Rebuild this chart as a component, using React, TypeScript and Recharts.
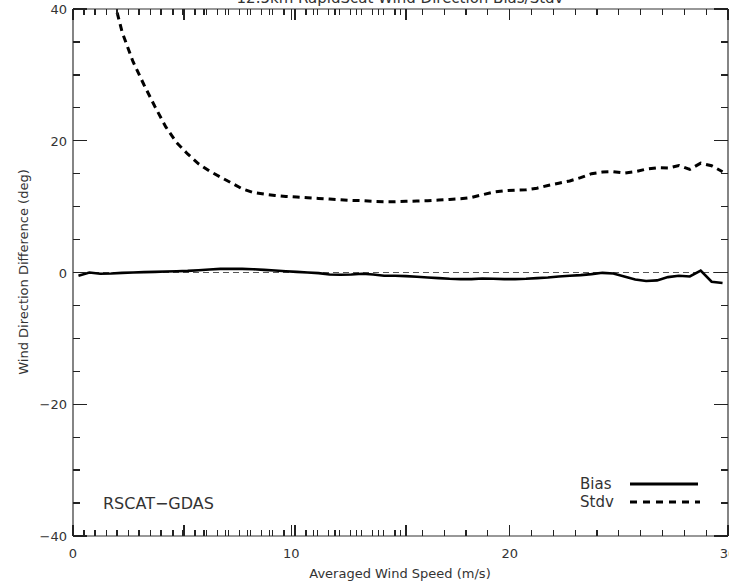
import { LineChart, Line, XAxis, YAxis, ReferenceLine } from 'recharts'

// averaged wind speed bins (m/s)
const speeds = [
  0.25, 0.75, 1.25, 1.75, 2.25, 2.75, 3.25, 3.75, 4.25, 4.75,
  5.25, 5.75, 6.25, 6.75, 7.25, 7.75, 8.25, 8.75, 9.25, 9.75,
  10.25, 10.75, 11.25, 11.75, 12.25, 12.75, 13.25, 13.75, 14.25, 14.75,
  15.25, 15.75, 16.25, 16.75, 17.25, 17.75, 18.25, 18.75, 19.25, 19.75,
  20.25, 20.75, 21.25, 21.75, 22.25, 22.75, 23.25, 23.75, 24.25, 24.75,
  25.25, 25.75, 26.25, 26.75, 27.25, 27.75, 28.25, 28.75, 29.25, 29.75,
]

const bias = [
  -0.5, 0.0, -0.2, -0.15, -0.05, 0.0, 0.05, 0.1, 0.15, 0.2,
  0.25, 0.35, 0.45, 0.55, 0.55, 0.55, 0.5, 0.4, 0.3, 0.2,
  0.1, 0.0, -0.1, -0.3, -0.35, -0.3, -0.2, -0.3, -0.5, -0.5,
  -0.55, -0.65, -0.75, -0.85, -0.95, -1.0, -1.0, -0.9, -0.95, -1.0,
  -1.0, -0.95, -0.85, -0.75, -0.6, -0.5, -0.4, -0.25, -0.05, -0.15,
  -0.6, -1.05, -1.3, -1.2, -0.7, -0.5, -0.6, 0.3, -1.4, -1.6,
]

const stdv = [
  68, 58, 50, 43, 36.5, 32, 28.5, 25.2, 22.1, 19.7,
  18.0, 16.5, 15.4, 14.5, 13.6, 12.7, 12.15, 11.9, 11.7, 11.55,
  11.45, 11.35, 11.25, 11.15, 11.05, 10.95, 10.9, 10.8, 10.75, 10.75,
  10.8, 10.85, 10.9, 11.0, 11.1, 11.2, 11.4, 11.8, 12.2, 12.4,
  12.5, 12.55, 12.8, 13.2, 13.55, 13.9, 14.4, 15.0, 15.25, 15.3,
  15.1, 15.3, 15.7, 15.9, 15.85, 16.25, 15.65, 16.6, 16.2, 15.3,
]

const xTicks = Array.from({ length: 31 }, (_, i) => i)
const yTicks = Array.from({ length: 17 }, (_, i) => -40 + i * 5)

const data = speeds.map((s, i) => ({ speed: s, bias: bias[i], stdv: stdv[i] }))

const FONT = '"DejaVu Sans", sans-serif'
const INK = '#333'
const TICK = '#222'
// plot box size (729 - 73 - 1, 583 - 9 - 47), used to mirror the inward ticks
const PLOT_W = 655
const PLOT_H = 527

const fmt = (v: number) => (v < 0 ? `\u2212${-v}` : `${v}`)

// x ticks: drawn on both bottom and top edges
function xTickMarks(x: number, yBottom: number, major: boolean) {
  const yTop = yBottom - PLOT_H
  const len = major ? 11 : 6
  return (
    <g shapeRendering="crispEdges">
      <line x1={x} x2={x} y1={yBottom} y2={yBottom - len} stroke={TICK} strokeWidth={1.3} />
      <line x1={x} x2={x} y1={yTop} y2={yTop + len} stroke={TICK} strokeWidth={1.3} />
    </g>
  )
}

// y ticks: drawn on both left and right edges
function yTickMarks(xLeft: number, y: number, major: boolean) {
  const xRight = xLeft + PLOT_W
  const len = major ? 14 : 7
  return (
    <g shapeRendering="crispEdges">
      <line x1={xLeft} x2={xLeft + len} y1={y} y2={y} stroke={TICK} strokeWidth={1.3} />
      <line x1={xRight} x2={xRight - len} y1={y} y2={y} stroke={TICK} strokeWidth={1.3} />
    </g>
  )
}

function BottomTick({ x, y, payload }: any) {
  const major = payload.value % 10 === 0
  return (
    <g>
      {xTickMarks(x, y, major)}
      {major && (
        <text x={x} y={y + 22} textAnchor="middle" fontSize={13} fontFamily={FONT} fill={INK}>
          {payload.value}
        </text>
      )}
    </g>
  )
}

function TopTick({ x, y, payload }: any) {
  return xTickMarks(x, y + PLOT_H, payload.value % 10 === 0)
}

function LeftTick({ x, y, payload }: any) {
  const major = payload.value % 20 === 0
  return (
    <g>
      {yTickMarks(x, y, major)}
      {major && (
        <text x={x - 6} y={y + 5} textAnchor="end" fontSize={13} fontFamily={FONT} fill={INK}>
          {fmt(payload.value)}
        </text>
      )}
    </g>
  )
}

function RightTick({ x, y, payload }: any) {
  return yTickMarks(x - PLOT_W, y, payload.value % 20 === 0)
}

const axisLine = { stroke: INK, strokeWidth: 1.2 }

export default function App() {
  return (
    <div style={{ position: 'relative', width: 729, height: 583, background: '#fff' }}>
      <style>{`body{margin:0}`}</style>
      <LineChart width={729} height={583} data={data} margin={{ top: 8, right: 0, left: 0, bottom: 0 }}>
        <XAxis
          dataKey="speed" type="number" domain={[0, 30]} ticks={xTicks} tickCount={31} interval={0}
          height={47} tickSize={0} tickMargin={0} tick={BottomTick} axisLine={axisLine} allowDataOverflow
        />
        <XAxis
          xAxisId="top" orientation="top" type="number" domain={[0, 30]} ticks={xTicks} tickCount={31}
          interval={0} height={1} tickSize={0} tickMargin={0} tick={TopTick} axisLine={axisLine}
        />
        <YAxis
          type="number" domain={[-40, 40]} ticks={yTicks} tickCount={17} interval={0} width={73}
          tickSize={0} tickMargin={0} tick={LeftTick} axisLine={axisLine} allowDataOverflow
        />
        <YAxis
          yAxisId="right" orientation="right" type="number" domain={[-40, 40]} ticks={yTicks}
          tickCount={17} interval={0} width={1} tickSize={0} tickMargin={0} tick={RightTick}
          axisLine={axisLine}
        />
        <ReferenceLine y={0} stroke="#555" strokeDasharray="6 4" />
        <Line
          dataKey="bias" type="linear" stroke="#000" strokeWidth={2.6} dot={false}
          isAnimationActive={false}
        />
        <Line
          dataKey="stdv" type="linear" stroke="#000" strokeWidth={3} strokeDasharray="7 5" dot={false}
          isAnimationActive={false}
        />
      </LineChart>
      <svg
        width={729} height={583}
        style={{ position: 'absolute', left: 0, top: 0, pointerEvents: 'none' }}
      >
        <text x={400} y={3} textAnchor="middle" fontSize={15} fontFamily={FONT} fill={INK}>
          12.5km RapidScat Wind Direction Bias/Stdv
        </text>
        <text x={400} y={578} textAnchor="middle" fontSize={13} fontFamily={FONT} fill={INK}>
          Averaged Wind Speed (m/s)
        </text>
        <text
          x={0} y={0} transform="translate(28,272) rotate(-90)" textAnchor="middle"
          fontSize={13} fontFamily={FONT} fill={INK}
        >
          Wind Direction Difference (deg)
        </text>
        <text x={103} y={509} fontSize={16} fontFamily={FONT} fill={INK}>RSCAT−GDAS</text>
        <text x={580} y={489} fontSize={15} fontFamily={FONT} fill={INK}>Bias</text>
        <line x1={630} x2={698} y1={484} y2={484} stroke="#000" strokeWidth={3} />
        <text x={580} y={507} fontSize={15} fontFamily={FONT} fill={INK}>Stdv</text>
        <line x1={630} x2={700} y1={502} y2={502} stroke="#000" strokeWidth={3} strokeDasharray="7 6" />
      </svg>
    </div>
  )
}
